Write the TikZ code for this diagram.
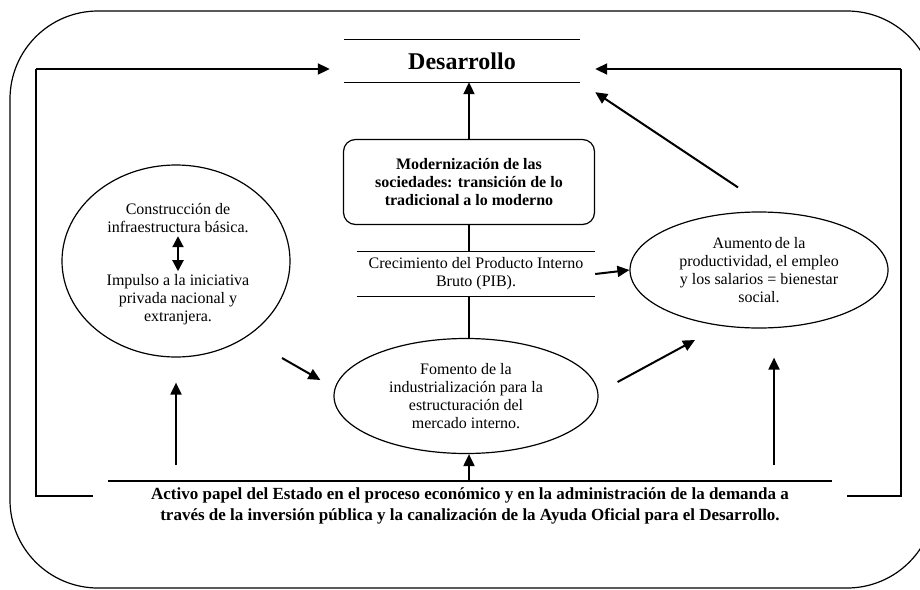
\documentclass[tikz,border=0pt]{standalone}
\usepackage{fontspec}
\setmainfont{Liberation Serif}
\usetikzlibrary{shapes.geometric,arrows.meta}

\begin{document}
\begin{tikzpicture}[x=1pt,y=-1pt,
    txt/.style={font=\fontsize{16}{18}\selectfont, align=center},
    btxt/.style={font=\bfseries\fontsize{16}{17.7}\selectfont, align=center},
    oval/.style={draw, ellipse, line width=1.2pt, inner sep=0pt},
    fb/.style={line width=1.2pt},
    arr/.style={line width=2pt, -{Triangle[length=12pt,width=11pt]}},
    dbl/.style={line width=2pt, {Triangle[length=11pt,width=11pt]}-{Triangle[length=11pt,width=11pt]}}]
    \useasboundingbox (0,0) rectangle (920,589);
    \draw[fb, rounded corners=88pt] (10,11) rectangle (935,588);

    \node[font=\bfseries\fontsize{24}{28}\selectfont, minimum width=236pt, minimum height=42pt] (des) at (462,61) {Desarrollo};
    \node[btxt, draw, line width=1.2pt, rounded corners=12pt, minimum width=251pt, minimum height=85pt] (mod) at (469,182)
        {Modernización de las\\sociedades: transición de lo\\tradicional a lo moderno};
    \node[txt, minimum width=238pt, minimum height=44pt] (pib) at (476,274) {Crecimiento del Producto Interno\\Bruto (PIB).};
    \node[oval, txt, minimum width=264pt, minimum height=115pt] (fom) at (466,396)
        {Fomento de la\\industrialización para la\\estructuración del\\mercado interno.};
    \node[oval, minimum width=228pt, minimum height=192pt] (infra) at (176,261) {};
    \node[txt] (constr) at (178,218) {Construcción de\\infraestructura básica.};
    \node[txt] (impulso) at (178,300) {Impulso a la iniciativa\\privada nacional y\\extranjera.};
    \node[oval, txt, minimum width=258pt, minimum height=116pt] (aum) at (759,270)
        {Aumento\,de la\\productividad, el empleo\\y los salarios = bienestar\\social.};
    \node[font=\bfseries\fontsize{17}{21}\selectfont, align=center, anchor=north, minimum width=724pt, inner ysep=6pt] (estado) at (470,481)
        {Activo papel del Estado en el proceso económico y en la administración de la demanda a\\través de la inversión pública y la canalización de la Ayuda Oficial para el Desarrollo.};

    \coordinate (ltop) at (36,69);
    \coordinate (lfoot) at (93,496);
    \coordinate (rtop) at (901,69);
    \coordinate (rfoot) at (847,496);
    \coordinate (aumfoot) at ([xshift=15pt]aum.south);

    \draw[fb] (des.north west) -- (des.north east);
    \draw[fb] (des.south west) -- (des.south east);
    \draw[fb] (pib.north west) -- (pib.north east);
    \draw[fb] (pib.south west) -- (pib.south east);
    \draw[fb] (estado.north west) -- (estado.north east);

    \draw[fb] (lfoot) -| (ltop);
    \draw[arr, shorten >=14pt] (ltop) -- (ltop -| des.west);
    \draw[fb] (rfoot) -| (rtop);
    \draw[arr, shorten >=15pt] (rtop) -- (rtop -| des.east);

    \draw[arr] (mod.north) -- (mod.north |- des.south);
    \draw[fb] (mod.south) -- (mod.south |- pib.north);
    \draw[fb] (mod.south |- pib.south) -- (mod.south |- fom.north);
    \draw[arr] (pib.east) -- (aum.west);
    \draw[arr] ([shift={(-21pt,24pt)}]aum.north) -- ([shift={(15pt,-10pt)}]des.south east);
    \draw[dbl] (constr.south) -- (impulso.north);
    \draw[arr] ([shift={(106pt,-97pt)}]infra.center) -- ([shift={(-13pt,16pt)}]fom.west);
    \draw[arr] ([shift={(19pt,14pt)}]fom.east) -- ([shift={(-64pt,-70pt)}]aum.center);

    \draw[arr, shorten <=16pt, shorten >=25pt] (estado.north -| infra.south) -- (infra.south);
    \draw[arr] (estado.north -| mod.south) -- (mod.south |- fom.south);
    \draw[arr, shorten <=16pt, shorten >=29pt] (estado.north -| aumfoot) -- (aumfoot);
\end{tikzpicture}
\end{document}
